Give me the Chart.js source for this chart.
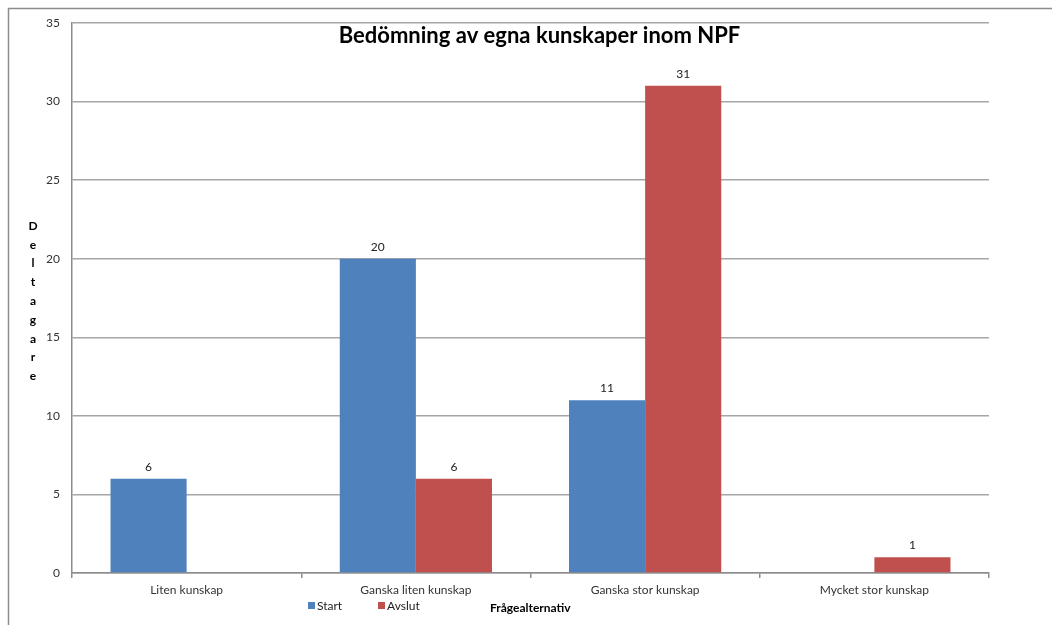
<!DOCTYPE html>
<html>
<head>
<meta charset="utf-8">
<script src="https://cdn.jsdelivr.net/npm/chart.js@4"></script>
<style>
  html, body { margin: 0; padding: 0; background: #fff; }
  #wrap { width: 1052px; height: 625px; position: relative; }
</style>
</head>
<body>
<div id="wrap"><canvas id="chart"></canvas></div>
<script>
// ── DATA ────────────────────────────────────────────────────────────────
const categories = ['Liten kunskap', 'Ganska liten kunskap', 'Ganska stor kunskap', 'Mycket stor kunskap'];
const startValues = [6, 20, 11, 0];
const avslutValues = [0, 6, 31, 1];
const seriesNames = ['Start', 'Avslut'];
const chartTitle = 'Bedömning av egna kunskaper inom NPF';
const yTitle = 'Deltagare';
const xTitle = 'Frågealternativ';

const FONT = 'Lato, "Open Sans", sans-serif';
const colors = ['#4f81bd', '#c0504d'];

// custom drawing: border, title, stacked y title, legend, x title, value labels
const decor = {
  id: 'decor',
  beforeDraw(chart) {
    const ctx = chart.ctx;
    ctx.save();
    ctx.strokeStyle = '#8c8c8c';
    ctx.lineWidth = 1.5;
    ctx.beginPath();
    ctx.moveTo(8.5, chart.height);
    ctx.lineTo(8.5, 8.5);
    ctx.lineTo(chart.width, 8.5);
    ctx.stroke();
    ctx.restore();
  },
  afterDatasetsDraw(chart) {
    const ctx = chart.ctx;
    const area = chart.chartArea;
    ctx.save();

    // value labels
    ctx.font = '12px ' + FONT;
    ctx.fillStyle = '#222';
    ctx.textAlign = 'center';
    ctx.textBaseline = 'bottom';
    chart.data.datasets.forEach((ds, i) => {
      chart.getDatasetMeta(i).data.forEach((bar, j) => {
        if (!ds.data[j]) return;
        ctx.fillText(String(ds.data[j]), bar.x, bar.y - 6);
      });
    });

    // title
    ctx.font = 'bold 22px ' + FONT;
    ctx.fillStyle = '#000';
    ctx.textBaseline = 'middle';
    ctx.fillText(chartTitle, (area.left + area.right) / 2 + 9, 36);

    // stacked y title
    ctx.font = 'bold 12px ' + FONT;
    const letters = yTitle.split('');
    letters.forEach((ch, i) => ctx.fillText(ch, 33, 226 + i * 18.8));

    // legend
    ctx.font = '12px ' + FONT;
    ctx.textAlign = 'left';
    const legendX = [308, 378];
    seriesNames.forEach((name, i) => {
      ctx.fillStyle = colors[i];
      ctx.fillRect(legendX[i], 602, 7, 7);
      ctx.fillStyle = '#222';
      ctx.fillText(name, legendX[i] + 9, 606);
    });

    // x title
    ctx.font = 'bold 12px ' + FONT;
    ctx.fillStyle = '#000';
    ctx.fillText(xTitle, 490, 608);
    ctx.restore();
  }
};

new Chart(document.getElementById('chart').getContext('2d'), {
  type: 'bar',
  data: {
    labels: categories,
    datasets: [
      { label: seriesNames[0], data: startValues, backgroundColor: colors[0], borderWidth: 0 },
      { label: seriesNames[1], data: avslutValues, backgroundColor: colors[1], borderWidth: 0 }
    ]
  },
  options: {
    responsive: true, maintainAspectRatio: false, animation: false,
    layout: { padding: { left: 0, right: 63, top: 23, bottom: 0 } },
    plugins: { legend: { display: false }, tooltip: { enabled: false }, title: { display: false } },
    datasets: { bar: { categoryPercentage: 0.664, barPercentage: 1 } },
    scales: {
      x: {
        grid: { drawOnChartArea: false, color: '#8c8c8c', tickLength: 5, lineWidth: 1.5 },
        border: { color: '#8c8c8c', width: 1.5 },
        ticks: { color: '#333', font: { family: FONT, size: 12 }, padding: 5, maxRotation: 0 },
        afterFit: s => { s.height = 52; }
      },
      y: {
        min: 0, max: 35,
        grid: { color: '#a6a6a6', lineWidth: 1.5, tickLength: 0 },
        border: { color: '#8c8c8c', width: 1.5 },
        ticks: { stepSize: 5, color: '#333', font: { family: FONT, size: 12 }, padding: 12 },
        afterFit: s => { s.width = 72; }
      }
    }
  },
  plugins: [decor]
});
</script>
</body>
</html>
